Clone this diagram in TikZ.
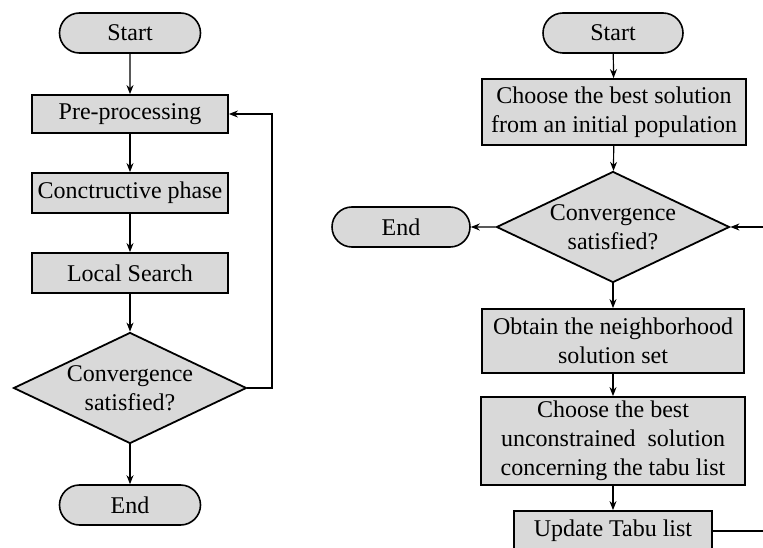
\documentclass[tikz,border=0pt]{standalone}
\usepackage{fontspec}
\setmainfont{Liberation Serif}
\usetikzlibrary{shapes.geometric,shapes.misc,arrows.meta}

\begin{document}
\begin{tikzpicture}[x=1pt,y=-1pt,
    font=\fontsize{24}{29}\selectfont,
    term/.style={rounded rectangle,draw,line width=1.6pt,fill=gray!30,minimum width=141pt,minimum height=40pt,inner sep=0pt},
    proc/.style={rectangle,draw,line width=1.8pt,fill=gray!30,inner sep=0pt,align=center},
    cond/.style={diamond,draw,line width=1.8pt,fill=gray!30,aspect=2.1,inner sep=0pt,align=center,minimum width=233pt,minimum height=111pt},
    flow/.style={line width=1.2pt,-{Stealth[length=9pt,width=7pt]}}]
        \useasboundingbox (0,0) rectangle (763,548);
        \clip (0,0) rectangle (763,548);

        % left chart
        \node[term] (startA) at (130,33) {Start};
        \node[proc,minimum width=196pt,minimum height=38pt] (preA) at (130,114) {Pre-processing};
        \node[proc,minimum width=196pt,minimum height=40pt] (conA) at (130,193) {Conctructive phase};
        \node[proc,minimum width=196pt,minimum height=40pt] (locA) at (130,273) {Local Search};
        \node[cond] (convA) at (130,388) {Convergence\\satisfied?};
        \node[term] (endA) at (130,505) {End};
        \coordinate (backA) at (272,388);

        \draw[flow] (startA) -- (preA);
        \draw[flow] (preA) -- (conA);
        \draw[flow] (conA) -- (locA);
        \draw[flow] (locA) -- (convA);
        \draw[flow] (convA) -- (endA);
        \draw[flow] (convA.east) -- (backA) |- (preA.east);

        % right chart
        \node[term,minimum width=140pt] (startB) at (613,33) {Start};
        \node[proc,minimum width=264pt,minimum height=66pt] (bestB) at (614,112) {Choose the best solution\\from an initial population};
        \node[cond] (convB) at (613,227) {Convergence\\satisfied?};
        \node[term,minimum width=138pt] (endB) at (401,227) {End};
        \node[proc,minimum width=262pt,minimum height=64pt] (obtB) at (613,341) {Obtain the neighborhood\\solution set};
        \node[proc,minimum width=264pt,minimum height=88pt] (chooseB) at (613,441) {Choose the best\\unconstrained~ solution\\concerning the tabu list};
        \node[proc,minimum width=198pt,minimum height=40pt] (updB) at (613,531) {Update Tabu list};
        \coordinate (inB) at (775,227);
        \coordinate (outB) at (775,531);

        \draw[flow] (startB) -- (bestB);
        \draw[flow] (bestB) -- (convB);
        \draw[flow] (convB.west) -- (endB);
        \draw[flow] (inB) -- (convB.east);
        \draw[flow] (convB) -- (obtB);
        \draw[flow] (obtB) -- (chooseB);
        \draw[flow] (chooseB) -- (updB);
        \draw[line width=1.2pt] (updB) -- (outB);

    \end{tikzpicture}
\end{document}
